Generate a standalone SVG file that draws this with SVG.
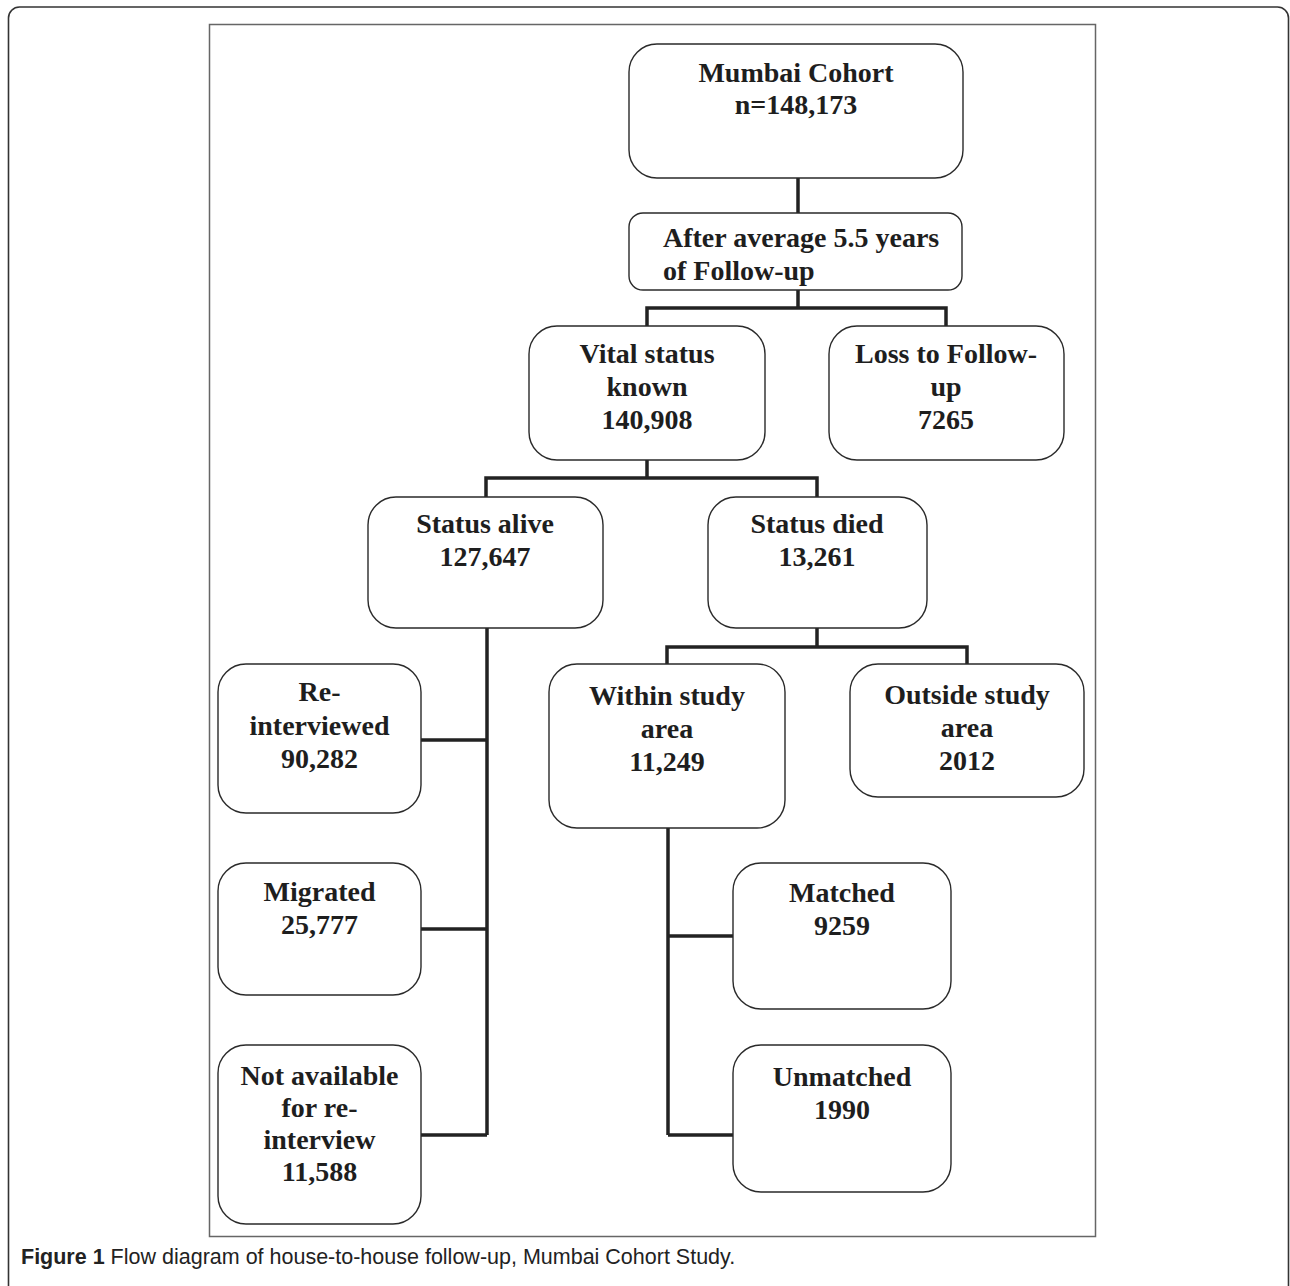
<svg xmlns="http://www.w3.org/2000/svg" width="1290" height="1286" viewBox="0 0 1290 1286">
<style>
.box{fill:#fff;stroke:#2a2a2a;stroke-width:1.4}
.t{font-family:"Liberation Serif","Times New Roman",serif;font-weight:bold;font-size:28px;fill:#1e1e1e;text-anchor:middle}
.tl{font-family:"Liberation Serif","Times New Roman",serif;font-weight:bold;font-size:28px;fill:#1e1e1e}
.c{fill:none;stroke:#222;stroke-width:3.5;stroke-linecap:butt;stroke-linejoin:miter}
.cap{font-family:"Liberation Sans",Arial,sans-serif;font-size:21.5px;fill:#222}
</style>
<rect width="1290" height="1286" fill="#fff"/>
<rect x="8.5" y="7" width="1280" height="1310" rx="11" fill="none" stroke="#333" stroke-width="1.6"/>
<rect x="209.5" y="24.5" width="886" height="1212" fill="none" stroke="#666" stroke-width="1.5"/>

<g id="connectors">
<path class="c" d="M798 178V213"/>
<path class="c" d="M798 290V308M647 326V308H946V326"/>
<path class="c" d="M647 460V478M486 497V478H817V497"/>
<path class="c" d="M487 628V1135M421 740H487M421 929H487M421 1135H487"/>
<path class="c" d="M817 628V647M667 664V647H967V664"/>
<path class="c" d="M668 828V1135M668 936H733M668 1135H733"/>
</g>

<g id="mumbai"><rect class="box" x="629" y="44" width="334" height="134" rx="28"/>
<text class="t" x="796" y="82">Mumbai Cohort</text><text class="t" x="796" y="114">n=148,173</text></g>

<g id="after"><rect class="box" x="629" y="213" width="333" height="77" rx="14"/>
<text class="tl" x="663" y="247">After average 5.5 years</text><text class="tl" x="663" y="280">of Follow-up</text></g>

<g id="vital"><rect class="box" x="529" y="326" width="236" height="134" rx="28"/>
<text class="t" x="647" y="363">Vital status</text><text class="t" x="647" y="396">known</text><text class="t" x="647" y="429">140,908</text></g>

<g id="loss"><rect class="box" x="829" y="326" width="235" height="134" rx="28"/>
<text class="t" x="946" y="363">Loss to Follow-</text><text class="t" x="946" y="396">up</text><text class="t" x="946" y="429">7265</text></g>

<g id="alive"><rect class="box" x="368" y="497" width="235" height="131" rx="28"/>
<text class="t" x="485" y="533">Status alive</text><text class="t" x="485" y="566">127,647</text></g>

<g id="died"><rect class="box" x="708" y="497" width="219" height="131" rx="28"/>
<text class="t" x="817" y="533">Status died</text><text class="t" x="817" y="566">13,261</text></g>

<g id="reinterviewed"><rect class="box" x="218" y="664" width="203" height="149" rx="28"/>
<text class="t" x="319.5" y="701">Re-</text><text class="t" x="319.5" y="735">interviewed</text><text class="t" x="319.5" y="768">90,282</text></g>

<g id="migrated"><rect class="box" x="218" y="863" width="203" height="132" rx="28"/>
<text class="t" x="319.5" y="901">Migrated</text><text class="t" x="319.5" y="934">25,777</text></g>

<g id="notavailable"><rect class="box" x="218" y="1045" width="203" height="179" rx="28"/>
<text class="t" x="319.5" y="1085">Not available</text><text class="t" x="319.5" y="1117">for re-</text><text class="t" x="319.5" y="1149">interview</text><text class="t" x="319.5" y="1181">11,588</text></g>

<g id="within"><rect class="box" x="549" y="664" width="236" height="164" rx="28"/>
<text class="t" x="667" y="705">Within study</text><text class="t" x="667" y="738">area</text><text class="t" x="667" y="771">11,249</text></g>

<g id="outside"><rect class="box" x="850" y="664" width="234" height="133" rx="28"/>
<text class="t" x="967" y="704">Outside study</text><text class="t" x="967" y="737">area</text><text class="t" x="967" y="770">2012</text></g>

<g id="matched"><rect class="box" x="733" y="863" width="218" height="146" rx="28"/>
<text class="t" x="842" y="902">Matched</text><text class="t" x="842" y="935">9259</text></g>

<g id="unmatched"><rect class="box" x="733" y="1045" width="218" height="147" rx="28"/>
<text class="t" x="842" y="1086">Unmatched</text><text class="t" x="842" y="1119">1990</text></g>

<text class="cap" x="21" y="1264"><tspan font-weight="bold">Figure 1</tspan> Flow diagram of house-to-house follow-up, Mumbai Cohort Study.</text>
</svg>
